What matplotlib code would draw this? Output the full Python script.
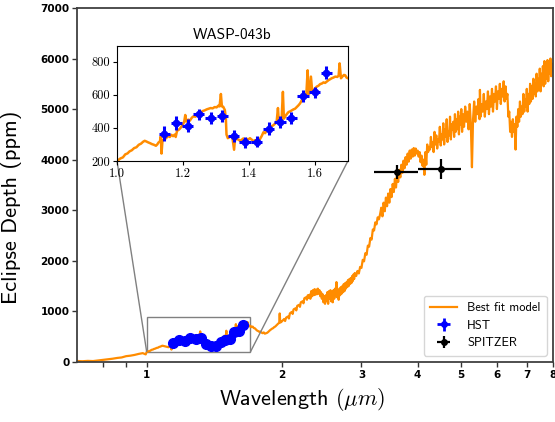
import matplotlib
matplotlib.use('Agg')
import matplotlib.pyplot as plt
import numpy as np
from mpl_toolkits.axes_grid1.inset_locator import mark_inset

plt.rcParams['font.family'] = 'cmss10'
plt.rcParams['mathtext.fontset'] = 'cm'
plt.rcParams['axes.unicode_minus'] = False

# best fit model (wavelength in um, depth in ppm), in pieces
# optical part
wl_opt = [0.70, 0.72, 0.74, 0.76, 0.78, 0.80, 0.82, 0.84, 0.86, 0.88, 0.90, 0.92, 0.94, 0.96, 0.98, 0.995, 1.0]
dep_opt = [20, 15, 22, 18, 30, 40, 55, 65, 80, 90, 115, 125, 140, 160, 175, 150, 200]

# WFC3 band (the inset)
wl_wfc3 = [1.003, 1.010, 1.018, 1.025, 1.032, 1.038, 1.045, 1.052, 1.059, 1.066, 1.073, 1.079, 1.084, 1.089,
           1.095, 1.100, 1.106, 1.112, 1.118, 1.122, 1.126, 1.130, 1.133, 1.135, 1.138, 1.145, 1.150, 1.155,
           1.160, 1.165, 1.170, 1.175, 1.178, 1.182, 1.188, 1.192, 1.196, 1.200, 1.204, 1.207, 1.210, 1.216,
           1.221, 1.227, 1.232, 1.238, 1.243, 1.249, 1.255, 1.260, 1.266, 1.272, 1.278, 1.284, 1.290, 1.296,
           1.302, 1.307, 1.311, 1.315, 1.318, 1.322, 1.327, 1.330, 1.332, 1.336, 1.341, 1.346, 1.350, 1.355,
           1.358, 1.363, 1.368, 1.373, 1.378, 1.383, 1.388, 1.393, 1.398, 1.403, 1.408, 1.414, 1.419, 1.424,
           1.429, 1.434, 1.439, 1.444, 1.449, 1.454, 1.459, 1.464, 1.469, 1.474, 1.479, 1.484, 1.488, 1.491,
           1.494, 1.499, 1.503, 1.506, 1.510, 1.515, 1.520, 1.525, 1.530, 1.535, 1.540, 1.545, 1.550, 1.555,
           1.560, 1.565, 1.570, 1.574, 1.578, 1.581, 1.584, 1.588, 1.592, 1.596, 1.601, 1.606, 1.611, 1.616,
           1.621, 1.626, 1.631, 1.636, 1.641, 1.646, 1.651, 1.656, 1.662, 1.668, 1.672, 1.675, 1.679, 1.684,
           1.688, 1.692, 1.696, 1.700]
dep_wfc3 = [204, 215, 222, 240, 246, 258, 265, 278, 283, 298, 305, 316, 322, 318,
            312, 308, 302, 298, 292, 300, 312, 318, 350, 245, 326, 333, 340, 352,
            345, 358, 350, 360, 345, 382, 390, 398, 410, 420, 440, 478, 438, 450,
            444, 462, 470, 468, 482, 486, 495, 502, 506, 512, 516, 520, 518, 526,
            524, 534, 530, 605, 530, 528, 508, 460, 360, 338, 344, 348, 340, 268,
            338, 332, 330, 322, 328, 336, 325, 334, 330, 338, 330, 320, 326, 312,
            324, 334, 352, 374, 368, 386, 392, 404, 410, 416, 425, 436, 520, 430,
            446, 450, 618, 456, 470, 484, 496, 500, 506, 512, 516, 526, 536, 548,
            566, 580, 596, 600, 748, 605, 610, 710, 618, 628, 640, 650, 655, 665,
            668, 675, 672, 680, 688, 694, 700, 704, 710, 708, 716, 790, 700, 712,
            720, 718, 704, 700]

# 1.7 - 3.3 um
wl_mid = [1.705, 1.71, 1.72, 1.73, 1.74, 1.75, 1.76, 1.77, 1.78, 1.79, 1.80, 1.81, 1.82, 1.83, 1.84, 1.85,
          1.86, 1.87, 1.88, 1.89, 1.90, 1.91, 1.92, 1.93, 1.94, 1.95, 1.96, 1.97, 1.975, 1.98, 1.99, 2.00,
          2.02, 2.03, 2.04, 2.06, 2.07, 2.08, 2.10, 2.11, 2.12, 2.14, 2.15, 2.16, 2.18, 2.19, 2.20, 2.22,
          2.23, 2.24, 2.26, 2.27, 2.28, 2.29,
          2.30, 2.31, 2.32, 2.33, 2.34, 2.35, 2.36, 2.37, 2.38, 2.39, 2.40, 2.41, 2.42, 2.43, 2.44, 2.45,
          2.46, 2.47, 2.48, 2.49, 2.50, 2.51, 2.52, 2.53, 2.54, 2.55, 2.56, 2.57, 2.58, 2.59, 2.60, 2.61,
          2.62, 2.63, 2.64, 2.65, 2.66, 2.67, 2.68, 2.69, 2.70, 2.71, 2.72, 2.73, 2.74, 2.75, 2.76, 2.77,
          2.78, 2.79, 2.80, 2.81, 2.82, 2.83, 2.84, 2.85, 2.86, 2.87, 2.88, 2.89, 2.90, 2.92, 2.94, 2.96,
          2.98, 3.00, 3.02, 3.04, 3.06, 3.08, 3.10, 3.12, 3.14, 3.16, 3.18, 3.20, 3.22, 3.24, 3.26, 3.28]
dep_mid = [705, 690, 700, 670, 665, 640, 620, 610, 595, 600, 580, 570, 585, 560, 568, 575,
           590, 610, 630, 645, 660, 670, 690, 700, 720, 740, 760, 775, 960, 780, 790, 810,
           850, 810, 875, 900, 860, 960, 990, 950, 1040, 1060, 1020, 1110, 1130, 1090, 1180, 1200,
           1160, 1260, 1280, 1230, 1320, 1270,
           1330, 1250, 1400, 1300, 1420, 1320, 1440, 1330, 1430, 1340, 1450, 1350, 1420, 1300, 1380, 1250,
           1340, 1180, 1300, 1150, 1320, 1200, 1380, 1150, 1400, 1250, 1420, 1200, 1380, 1180, 1420, 1250,
           1450, 1300, 1580, 1280, 1400, 1230, 1450, 1320, 1480, 1350, 1500, 1380, 1540, 1400, 1560, 1450,
           1580, 1480, 1620, 1500, 1640, 1540, 1660, 1560, 1700, 1600, 1730, 1640, 1760, 1700, 1800, 1750,
           1880, 1860, 2020, 1990, 2150, 2120, 2300, 2280, 2450, 2420, 2620, 2600, 2760, 2720, 2860, 2820]

# 3.3 - 8 um
wl_ir = [3.30, 3.32, 3.34, 3.36, 3.38, 3.40, 3.42, 3.44, 3.46, 3.48, 3.50, 3.52, 3.54, 3.56, 3.58, 3.60,
         3.62, 3.64, 3.66, 3.68, 3.70, 3.72, 3.74, 3.76, 3.78, 3.80, 3.82, 3.84, 3.86, 3.88, 3.90, 3.92,
         3.94, 3.96, 3.98, 4.00, 4.02, 4.04, 4.06, 4.08, 4.10, 4.12, 4.14, 4.16, 4.18, 4.20, 4.22, 4.24,
         4.26, 4.28, 4.30, 4.32, 4.34, 4.36, 4.38, 4.40, 4.42, 4.44, 4.46, 4.48, 4.50, 4.52, 4.54, 4.56,
         4.58, 4.60, 4.62, 4.64, 4.66, 4.68, 4.70, 4.72, 4.74, 4.76, 4.78, 4.80, 4.82, 4.84, 4.86, 4.88,
         4.90, 4.92, 4.94, 4.96, 4.98, 5.00, 5.02, 5.04, 5.07, 5.10, 5.13, 5.16, 5.19, 5.22, 5.25, 5.28,
         5.31, 5.34, 5.37, 5.40, 5.43, 5.46, 5.49, 5.50, 5.52, 5.55, 5.58, 5.61, 5.64, 5.67, 5.70, 5.73,
         5.76, 5.79, 5.82, 5.85, 5.88, 5.91, 5.94, 5.97, 6.00, 6.03, 6.06, 6.09, 6.12, 6.15, 6.18, 6.21,
         6.24, 6.27, 6.30, 6.33, 6.36, 6.39, 6.42, 6.45, 6.48, 6.51, 6.54, 6.57, 6.60, 6.63, 6.66, 6.69,
         6.72, 6.75, 6.78, 6.81, 6.84, 6.87, 6.90, 6.93, 6.96, 6.99, 7.02, 7.05, 7.08, 7.11, 7.14, 7.17,
         7.20, 7.23, 7.26, 7.29, 7.32, 7.35, 7.38, 7.41, 7.44, 7.47, 7.50, 7.53, 7.56, 7.59, 7.62, 7.65,
         7.68, 7.71, 7.74, 7.77, 7.80, 7.83, 7.86, 7.89, 7.92, 7.95, 7.98, 8.00]
dep_ir = [2920, 3050, 2880, 3150, 2980, 3250, 3080, 3330, 3150, 3420, 3260, 3520, 3360, 3620, 3450, 3720,
          3560, 3800, 3650, 3900, 3740, 3980, 3830, 4050, 3900, 4120, 3960, 4180, 4020, 4200, 4060, 4230,
          4080, 4220, 4120, 4180, 4060, 4150, 3950, 4080, 3880, 4000, 3700, 4150, 3900, 4300, 4150, 4250,
          4200, 4450, 4250, 4350, 4150, 4550, 4300, 4480, 4220, 4400, 4350, 4650, 4280, 4500, 4400, 4720,
          4300, 4600, 4450, 4800, 4350, 4550, 4480, 4850, 4400, 4700, 4600, 4750, 4450, 4900, 4550, 4800,
          4600, 4950, 4500, 4850, 4700, 5000, 4550, 4900, 4650, 5050, 4750, 4950, 4600, 5100, 4700, 3850,
          4800, 5150, 4750, 5050, 4900, 5200, 4800, 5380, 4850, 5100, 4950, 5300, 4850, 5150, 5000, 5350,
          4900, 5250, 5050, 5400, 4950, 5300, 5150, 5450, 5000, 5350, 5200, 5500, 5100, 5400, 5250, 5550,
          5150, 5450, 5200, 5300, 4850, 4950, 4550, 4750, 4450, 4800, 4550, 4700, 4200, 4850, 4650, 5000,
          4750, 5150, 4850, 5050, 4900, 5300, 4950, 5200, 5050, 5400, 4950, 5300, 5100, 5500, 5150, 5450,
          5200, 5600, 5300, 5500, 5250, 5700, 5350, 5600, 5400, 5800, 5350, 5700, 5500, 5850, 5450, 5950,
          5500, 5800, 5600, 5970, 5550, 5850, 5700, 6000, 5650, 5900, 5750, 5850]

model_wl = wl_opt + wl_wfc3 + wl_mid + wl_ir
model_depth = dep_opt + dep_wfc3 + dep_mid + dep_ir

# HST WFC3 points
hst_wl = [1.143, 1.180, 1.214, 1.248, 1.284, 1.319, 1.354, 1.388, 1.424, 1.460, 1.494, 1.529, 1.564, 1.600, 1.635]
hst_depth = [366, 430, 414, 481, 461, 473, 353, 313, 317, 396, 438, 459, 594, 614, 733]
hst_err = [45, 40, 38, 36, 36, 36, 36, 32, 32, 38, 36, 36, 36, 36, 40]
hst_xerr = 0.017

# Spitzer points
spitzer_wl = [3.6, 4.5]
spitzer_depth = [3756, 3815]
spitzer_err = [130, 200]
spitzer_xlo = [0.4, 0.5]
spitzer_xhi = [0.4, 0.5]

orange = '#ff8c00'

fig = plt.figure(figsize=(5.55, 4.22), dpi=100)
ax = fig.add_axes([0.1387, 0.1422, 0.858, 0.839])

ax.plot(model_wl, model_depth, color=orange, lw=1.6, label='Best fit model', zorder=2)
ax.errorbar(hst_wl, hst_depth, yerr=hst_err, xerr=hst_xerr, fmt='o', color='blue', ms=4,
            elinewidth=2, capsize=0, label='HST', zorder=3)
ax.plot(hst_wl, hst_depth, 'o', color='blue', ms=7, zorder=4)
ax.errorbar(spitzer_wl, spitzer_depth, yerr=spitzer_err, xerr=[spitzer_xlo, spitzer_xhi], fmt='o',
            color='black', ms=4, elinewidth=1.6, capsize=0, label='SPITZER', zorder=4)

ax.set_xscale('log')
ax.set_xlim(0.70, 8.0)
ax.set_ylim(0, 7000)
ax.set_xticks([1, 2, 3, 4, 5, 6, 7, 8])
ax.set_xticklabels(['1', '2', '3', '4', '5', '6', '7', '8'])
ax.set_xticks([0.8, 0.9], minor=True)
ax.xaxis.set_minor_formatter(matplotlib.ticker.NullFormatter())
ax.set_yticks(range(0, 7001, 1000))
for lab in ax.get_xticklabels() + ax.get_yticklabels():
    lab.set_fontfamily('DejaVu Sans')
    lab.set_fontweight('bold')
    lab.set_fontsize(7.5)
ax.tick_params(which='both', direction='out', length=3.5, width=1, color='0.2', pad=2)
for s in ax.spines.values():
    s.set_linewidth(1.3)
    s.set_color('0.25')

ax.set_xlabel(r'Wavelength $(\mu m)$', fontsize=16)
ax.xaxis.set_label_coords(0.473, -0.068)
ax.set_ylabel('Eclipse Depth (ppm)', fontsize=16)
ax.yaxis.set_label_coords(-0.115, 0.438)

ax.legend(loc='lower right', fontsize=9, handlelength=2.2, borderpad=0.5, labelspacing=0.45)

# inset zoom on the HST band
axins = fig.add_axes([0.2108, 0.6185, 0.416, 0.2725])
axins.plot(model_wl, model_depth, color=orange, lw=1.8, zorder=2)
axins.errorbar(hst_wl, hst_depth, yerr=hst_err, xerr=hst_xerr, fmt='o', color='blue', ms=4.5,
               elinewidth=2.2, capsize=0, zorder=3)
axins.set_xlim(1.0, 1.7)
axins.set_ylim(200, 895)
axins.set_xticks([1.0, 1.2, 1.4, 1.6])
axins.set_yticks([200, 400, 600, 800])
axins.set_xticklabels(['1.0', '1.2', '1.4', '1.6'])
axins.set_yticklabels(['200', '400', '600', '800'])
for lab in axins.get_xticklabels() + axins.get_yticklabels():
    lab.set_fontfamily('cmr10')
    lab.set_fontsize(9)
axins.tick_params(direction='out', length=3, pad=2)
axins.set_title('WASP-043b', fontsize=11, pad=5)

mark_inset(ax, axins, loc1=3, loc2=4, fc='none', ec='0.5', lw=1)

fig.savefig('out.png', dpi=100)
